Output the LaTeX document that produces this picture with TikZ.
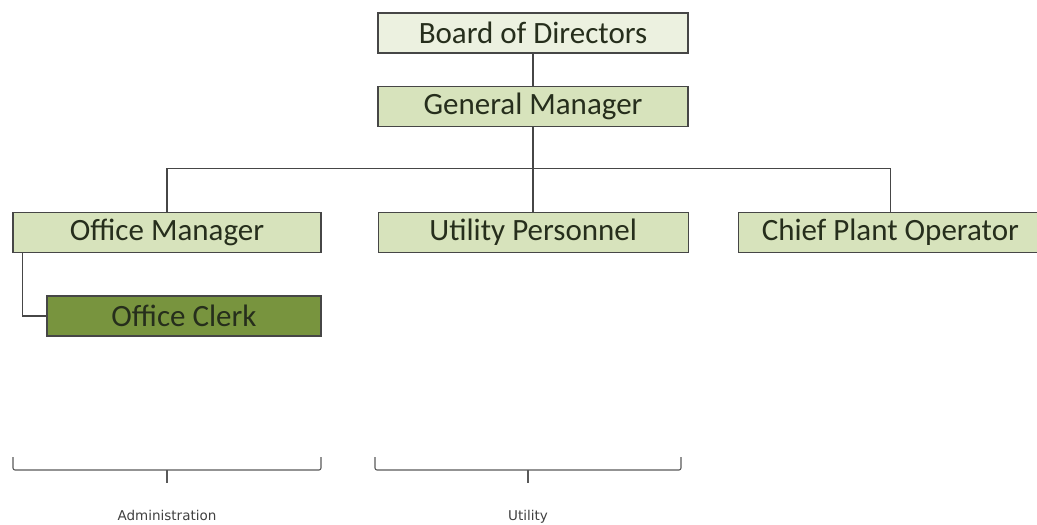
\documentclass[tikz,border=0pt]{standalone}
\usepackage{fontspec}
\setmainfont{Carlito}
\newfontfamily\notefont{DejaVu Sans}
\usetikzlibrary{positioning,chains}
\definecolor{boardfill}{RGB}{236,241,224}
\definecolor{rolefill}{RGB}{215,227,188}
\definecolor{clerkfill}{RGB}{120,148,62}
\definecolor{rimgray}{RGB}{70,70,70}
\definecolor{inkgreen}{RGB}{38,46,28}

\begin{document}
\begin{tikzpicture}[x=1pt,y=1pt,
    role/.style={rectangle, draw=rimgray, fill=rolefill, line width=1.2pt,
      minimum width=310pt, minimum height=40pt, inner sep=0pt,
      text=inkgreen, font=\fontsize{31}{36}\selectfont},
    link/.style={draw=rimgray, line width=1.2pt},
    brace/.style={draw=black!65, line width=1.1pt, rounded corners=2pt},
    note/.style={font=\notefont\fontsize{13.5}{16}\selectfont, text=black!75},
    start chain=row going right, node distance=56pt]
    \useasboundingbox (0,0) rectangle (1037,-525);
    \node[role,fill=boardfill] (board) at (533,-33) {Board of Directors};
    \node[role,below=32pt of board] (gm) {General Manager};
    \node[role,minimum width=308pt,on chain] (om) at (167,-232.5) {Office Manager};
    \node[role,on chain] (up) {Utility Personnel};
    \node[role,minimum width=304pt,on chain,xshift=-7pt] (cpo) {Chief Plant Operator};
    \node[role,fill=clerkfill,minimum width=274pt] (clerk) at (184,-316) {Office Clerk};
    \draw[link] (board) -- (gm);
    \draw[link] (gm.south) -- ++(0,-42) coordinate (bus);
    \draw[link] (om.north) |- (bus) -| (cpo.north);
    \draw[link] (bus) -- (bus |- up.north);
    \draw[link] ([xshift=10pt]om.south west) |- (clerk.west);
    % departments
    \foreach \l/\r/\txt in {13/321/Administration,375/681/Utility}{
      \draw[brace] (\l,-457) -- (\l,-470) -- (\r,-470) -- (\r,-457);
      \draw[brace] ({(\l+\r)/2},-470) -- ++(0,-13) node[note,below=23pt] {\txt};
    }
\end{tikzpicture}
\end{document}
